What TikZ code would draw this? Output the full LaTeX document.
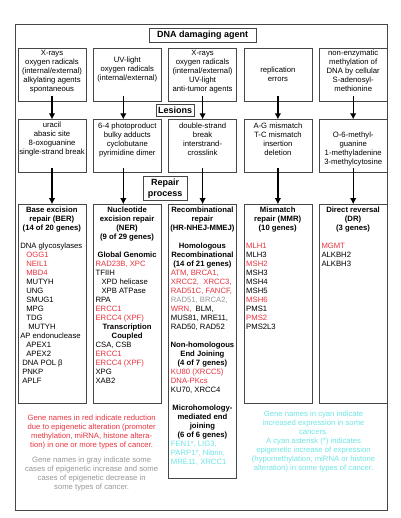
\documentclass[tikz,border=0pt]{standalone}
\usepackage{fontspec}
\setmainfont{Liberation Sans}
\usetikzlibrary{positioning,arrows.meta,calc}

\definecolor{genered}{RGB}{232,50,62}
\definecolor{genegray}{RGB}{150,150,150}
\definecolor{genecyan}{RGB}{112,228,228}
\definecolor{boxline}{RGB}{70,70,70}

\newcommand{\redgene}[1]{\textcolor{genered}{#1}}
\newcommand{\graygene}[1]{\textcolor{genegray}{#1}}
\newcommand{\cyangene}[1]{\textcolor{genecyan}{#1}}
\newcommand{\repairhead}[1]{\makebox[63pt]{\bfseries #1}}

\begin{document}
\begin{tikzpicture}[
    x=1pt, y=-1pt,
    box/.style={rectangle, draw=boxline, line width=0.8pt, inner sep=0pt, minimum width=68pt},
    agentbox/.style={box, minimum height=53pt},
    repairbox/.style={box, minimum height=199pt},
    tag/.style={rectangle, draw=boxline, fill=white, line width=0.8pt, inner sep=1pt, font=\fontsize{9}{10.5}\selectfont\bfseries, align=center},
    boxtext/.style={inner sep=0pt, align=center, font=\fontsize{7.7}{9}\selectfont},
    genes/.style={inner sep=0pt, align=left, font=\fontsize{7.7}{9}\selectfont},
    note/.style={inner sep=0pt, align=center, font=\fontsize{7.7}{9}\selectfont},
    arrow/.style={-{Latex[length=6pt,width=6.5pt]}, line width=1.2pt}
]
\useasboundingbox (0,0) rectangle (400,518);

% Outer frame
\node[box, minimum width=372pt, minimum height=486pt] (frame) at (201,267) {};

% Damaging agents
\node[agentbox] (agent1) at (52,74.5) {};
\node[agentbox, right=6.5pt of agent1] (agent2) {};
\node[agentbox, right=6.5pt of agent2] (agent3) {};
\node[agentbox, right=6.5pt of agent3] (agent4) {};
\node[agentbox, right=6.5pt of agent4] (agent5) {};
\node[tag, minimum width=107pt, minimum height=14pt, above=5pt of agent3] (title) {DNA damaging agent};

\node[boxtext, below=2pt of agent1.north] (agent1-text) {X-rays\\oxygen radicals\\(internal/external)\\alkylating agents\\spontaneous};
\node[boxtext] (agent2-text) at ([yshift=4.5pt]agent2.center) {UV-light\\oxygen radicals\\(internal/external)};
\node[boxtext, below=2pt of agent3.north] (agent3-text) {X-rays\\oxygen radicals\\(internal/external)\\UV-light\\anti-tumor agents};
\node[boxtext] (agent4-text) at (agent4.center) {replication\\errors};
\node[boxtext, below=2pt of agent5.north] (agent5-text) {non-enzymatic\\methylation of\\DNA by cellular\\S-adenosyl-\\methionine};

% Lesions
\node[agentbox, below=18pt of agent1] (lesion1) {};
\node[agentbox, below=18pt of agent2] (lesion2) {};
\node[agentbox, below=18pt of agent3] (lesion3) {};
\node[agentbox, below=18pt of agent4] (lesion4) {};
\node[agentbox, below=18pt of agent5] (lesion5) {};
\node[tag, minimum width=38pt, minimum height=12.5pt] (lesions) at ([xshift=7pt, yshift=-9pt]agent3.south west) {Lesions};

\node[boxtext, below=2.5pt of lesion1.north] (lesion1-text) {uracil\\abasic site\\8-oxoguanine\\single-strand break};
\node[boxtext, below=3pt of lesion2.north] (lesion2-text) {6-4 photoproduct\\bulky adducts\\cyclobutane\\pyrimidine dimer};
\node[boxtext, below=3pt of lesion3.north] (lesion3-text) {double-strand\\break\\interstrand-\\crosslink};
\node[boxtext, below=3.5pt of lesion4.north] (lesion4-text) {A-G mismatch\\T-C mismatch\\insertion\\deletion};
\node[boxtext] (lesion5-text) at ([yshift=-3pt]lesion5.center) {O-6-methyl-\\guanine\\1-methyladenine\\3-methylcytosine};

% Repair process
\node[repairbox, below=31pt of lesion1] (ber) {};
\node[repairbox, below=31pt of lesion2] (ner) {};
\node[repairbox, minimum height=274pt, below=31pt of lesion3] (recomb) {};
\node[repairbox, below=31pt of lesion4] (mmr) {};
\node[repairbox, below=31pt of lesion5] (dr) {};
\node[tag, minimum width=44pt, minimum height=24pt] (repair) at ([xshift=-3pt, yshift=-15.5pt]lesion3.south west) {Repair\\process};

% Arrows
\draw[arrow] ([yshift=5pt]agent1.south) -- (lesion1.north);
\draw[arrow] ([xshift=-4pt, yshift=5pt]agent2.south) -- ([xshift=-4pt]lesion2.north);
\draw[arrow] ([yshift=5pt]agent3.south) -- (lesion3.north);
\draw[arrow] ([yshift=5pt]agent4.south) -- (lesion4.north);
\draw[arrow] ([yshift=5pt]agent5.south) -- (lesion5.north);
\draw[arrow] ([yshift=5pt]lesion1.south) -- (ber.north);
\draw[arrow] ([xshift=-4pt, yshift=5pt]lesion2.south) -- ([xshift=-4pt]ner.north);
\draw[arrow] ([yshift=5pt]lesion3.south) -- (recomb.north);
\draw[arrow] ([yshift=5pt]lesion4.south) -- (mmr.north);
\draw[arrow] ([yshift=5pt]lesion5.south) -- (dr.north);

% Genes per pathway
\node[genes, below right=3pt and 2.5pt of ber.north west] (ber-text) {%
\repairhead{Base excision}\\
\repairhead{repair (BER)}\\
\repairhead{(14 of 20 genes)}\\[9pt]
DNA glycosylases\\
\hspace*{6pt}\redgene{OGG1}\\
\hspace*{6pt}\redgene{NEIL1}\\
\hspace*{6pt}\redgene{MBD4}\\
\hspace*{6pt}MUTYH\\
\hspace*{6pt}UNG\\
\hspace*{6pt}SMUG1\\
\hspace*{6pt}MPG\\
\hspace*{6pt}TDG\\
\hspace*{8pt}MUTYH\\
AP endonuclease\\
\hspace*{6pt}APEX1\\
\hspace*{6pt}APEX2\\
\hspace*{2pt}DNA POL β\\
\hspace*{2pt}PNKP\\
\hspace*{2pt}APLF};

\node[genes, below right=3pt and 2.5pt of ner.north west] (ner-text) {%
\repairhead{Nucleotide}\\
\repairhead{excision repair}\\
\repairhead{(NER)}\\
\repairhead{(9 of 29 genes)}\\[9pt]
\repairhead{Global Genomic}\\
\redgene{RAD23B, XPC}\\
TFIIH\\
\hspace*{6pt}XPD helicase\\
\hspace*{6pt}XPB ATPase\\
RPA\\
\redgene{ERCC1}\\
\redgene{ERCC4 (XPF)}\\
\repairhead{Transcription}\\
\repairhead{Coupled}\\
CSA, CSB\\
\redgene{ERCC1}\\
\redgene{ERCC4 (XPF)}\\
XPG\\
XAB2};

\node[genes, below right=3pt and 2.5pt of recomb.north west] (recomb-text) {%
\repairhead{Recombinational}\\
\repairhead{repair}\\
\repairhead{(HR-NHEJ-MMEJ)}\\[9pt]
\repairhead{Homologous}\\
\repairhead{Recombinational}\\
\repairhead{(14 of 21 genes)}\\
\redgene{ATM, BRCA1,}\\
\redgene{XRCC2,\ \ XRCC3,}\\
\redgene{RAD51C, FANCF,}\\
\graygene{RAD51, BRCA2,}\\
\redgene{WRN,}\ \ BLM,\\
MUS81, MRE11,\\
RAD50, RAD52\\[9pt]
\repairhead{Non-homologous}\\
\repairhead{End Joining}\\
\repairhead{(4 of 7 genes)}\\
\redgene{KU80 (XRCC5)}\\
\redgene{DNA-PKcs}\\
KU70, XRCC4\\[9pt]
\repairhead{Microhomology-}\\
\repairhead{mediated end}\\
\repairhead{joining}\\
\repairhead{(6 of 6 genes)}\\
\cyangene{FEN1*, LIG3,}\\
\cyangene{PARP1*, Nibrin,}\\
\cyangene{MRE11, XRCC1}};

\node[genes, below right=3pt and 2.5pt of mmr.north west] (mmr-text) {%
\repairhead{Mismatch}\\
\repairhead{repair (MMR)}\\
\repairhead{(10 genes)}\\[9pt]
\redgene{MLH1}\\
MLH3\\
\redgene{MSH2}\\
MSH3\\
MSH4\\
MSH5\\
\redgene{MSH6}\\
PMS1\\
\redgene{PMS2}\\
PMS2L3};

\node[genes, below right=3pt and 2.5pt of dr.north west] (dr-text) {%
\repairhead{Direct reversal}\\
\repairhead{(DR)}\\
\repairhead{(3 genes)}\\[9pt]
\redgene{MGMT}\\
ALKBH2\\
ALKBH3};

% Notes
\coordinate (left-notes) at ($(ber.south)!0.5!(ner.south)$);
\coordinate (right-notes) at ($(mmr.south)!0.5!(dr.south)$);
\node[note, text=genered, below=10.5pt of left-notes, xshift=2pt] (red-note) {Gene names in red indicate reduction\\due to epigenetic alteration (promoter\\methylation, miRNA, histone altera-\\tion) in one or more types of cancer.};
\node[note, text=genegray, below=8pt of red-note] (gray-note) {Gene names in gray indicate some\\cases of epigenetic increase and some\\cases of epigenetic decrease in\\some types of cancer.};
\node[note, text=genecyan, below=7pt of right-notes, xshift=-2pt] (cyan-note) {Gene names in cyan indicate\\increased expression in some\\cancers.\\A cyan asterisk (*) indicates\\epigenetic increase of expression\\(hypomethylation, miRNA or histone\\alteration) in some types of cancer.};

\end{tikzpicture}
\end{document}
